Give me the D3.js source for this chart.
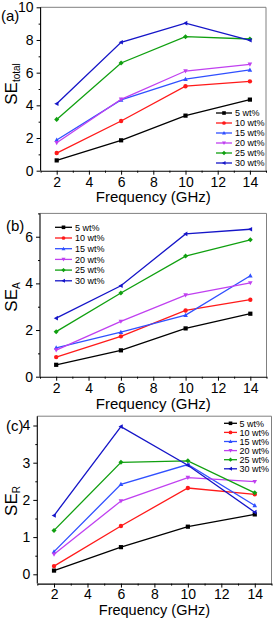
<!DOCTYPE html>
<html><head><meta charset="utf-8">
<script src="https://cdn.jsdelivr.net/npm/d3@7"></script>
<style>body{margin:0;background:#fff;} svg{display:block;font-family:"Liberation Sans",Arial,sans-serif;}</style>
</head><body>
<svg id="chart" width="274" height="621"></svg>
<script>
const freqs = [2, 6, 10, 14];
const seriesNames = ["5 wt%", "10 wt%", "15 wt%", "20 wt%", "25 wt%", "30 wt%"];
const seriesColors = ["#000000", "#ff1a1a", "#3050ff", "#c040f0", "#10a010", "#1515c8"];
const markerTypes = ["square", "circle", "triUp", "triDown", "diamond", "triLeft"];

const seTotal = [
  [0.63, 1.86, 3.37, 4.35],
  [1.08, 3.04, 5.17, 5.47],
  [1.88, 4.33, 5.60, 6.17],
  [1.71, 4.37, 6.10, 6.51],
  [3.14, 6.59, 8.20, 8.06],
  [4.10, 7.86, 9.03, 7.98]
];
const seA = [
  [0.51, 1.13, 2.07, 2.70],
  [0.84, 1.73, 2.84, 3.30],
  [1.24, 1.91, 2.64, 4.33],
  [1.14, 2.37, 3.50, 4.02],
  [1.93, 3.59, 5.17, 5.87],
  [2.51, 3.90, 6.12, 6.32]
];
const seR = [
  [0.10, 0.73, 1.28, 1.61],
  [0.22, 1.30, 2.32, 2.15],
  [0.61, 2.42, 2.95, 1.85],
  [0.54, 1.97, 2.60, 2.49],
  [1.18, 3.01, 3.05, 2.19],
  [1.58, 3.97, 2.93, 1.67]
];
const xTicks = [2, 4, 6, 8, 10, 12, 14];
const yTicksTotal = [0, 2, 4, 6, 8, 10];
const yTicksA = [0, 2, 4, 6];
const yTicksR = [0, 1, 2, 3, 4];

const svg = d3.select("#chart");

const panels = [
  {data: seTotal, label: "(a)", sub: "total", xr: [40.6, 266], yd: [0, 10], yr: [170.7, 7.3],
   yt: yTicksTotal, ym: d3.range(1, 10, 2), labelPos: [1, 21], titleY: 84, xTitleY: 202, xTitleSize: 15, xPad: 2,
   legend: {x0: 216, x1: 232, tx: 235, y0: 113, dy: 10}},
  {data: seA, label: "(b)", sub: "A", xr: [40, 266.5], yd: [0, 7], yr: [376.7, 213.4],
   yt: yTicksA, ym: [1, 3, 5, 7], labelPos: [6, 231], titleY: 297, xTitleY: 409, xTitleSize: 15, xPad: 2,
   legend: {x0: 55, x1: 72, tx: 75, y0: 227.3, dy: 10.7}},
  {data: seR, label: "(c)", sub: "R", xr: [37.3, 271.5], yd: [-0.25, 4.25], yr: [583.6, 416.2],
   yt: yTicksR, ym: [0.5, 1.5, 2.5, 3.5], labelPos: [6, 431], titleY: 501, xTitleY: 615, xTitleSize: 14.5, xPad: 1,
   legend: {x0: 224, x1: 237, tx: 239.5, y0: 423.3, dy: 9.1}}
];

function markerPath(type, s) {
  const h = s / 2;
  switch (type) {
    case "square": return `M${-h},${-h}h${s}v${s}h${-s}Z`;
    case "circle": return d3.symbol(d3.symbolCircle, s * s * 0.85)();
    case "triUp": return `M0,${-h * 1.15}L${h * 1.1},${h * 0.85}L${-h * 1.1},${h * 0.85}Z`;
    case "triDown": return `M0,${h * 1.15}L${h * 1.1},${-h * 0.85}L${-h * 1.1},${-h * 0.85}Z`;
    case "diamond": return `M0,${-h * 1.2}L${h * 1.2},0L0,${h * 1.2}L${-h * 1.2},0Z`;
    case "triLeft": return `M${-h * 1.15},0L${h * 0.85},${-h * 1.1}L${h * 0.85},${h * 1.1}Z`;
  }
}

panels.forEach(p => {
  const x = d3.scaleLinear().domain([1, 15]).range(p.xr);
  const y = d3.scaleLinear().domain(p.yd).range(p.yr);
  const g = svg.append("g");
  const [L, R] = p.xr, [B, T] = p.yr;

  g.append("path").attr("d", `M${L},${T}H${R}V${B}`).attr("fill", "none")
    .attr("stroke", "#808080").attr("stroke-width", 1);

  const xAxis = g.append("g").attr("transform", `translate(0,${B})`)
    .call(d3.axisBottom(x).tickValues(xTicks).tickSize(4).tickSizeOuter(0).tickPadding(p.xPad)
      .tickFormat(d3.format("d")));
  xAxis.select(".domain").attr("stroke", "#000").attr("stroke-width", 1.1);
  xAxis.selectAll("text").attr("font-size", 14).attr("fill", "#000")
    .attr("font-family", "Liberation Sans, Arial, sans-serif");
  g.append("g").attr("transform", `translate(0,${B})`)
    .call(d3.axisBottom(x).tickValues(d3.range(1, 16, 2)).tickSize(2).tickFormat(""))
    .select(".domain").remove();

  const yAxis = g.append("g").attr("transform", `translate(${L},0)`)
    .call(d3.axisLeft(y).tickValues(p.yt).tickSize(4).tickSizeOuter(0).tickPadding(3)
      .tickFormat(d3.format("d")));
  yAxis.select(".domain").attr("stroke", "#000").attr("stroke-width", 1.1)
    .attr("d", `M0,${B}V${T}`);
  yAxis.selectAll("text").attr("font-size", 14).attr("fill", "#000")
    .attr("font-family", "Liberation Sans, Arial, sans-serif");
  g.append("g").attr("transform", `translate(${L},0)`)
    .call(d3.axisLeft(y).tickValues(p.ym).tickSize(2).tickFormat(""))
    .select(".domain").remove();

  const line = d3.line().x((d, i) => x(freqs[i])).y(d => y(d));
  p.data.forEach((vals, si) => {
    g.append("path").attr("d", line(vals)).attr("fill", "none")
      .attr("stroke", seriesColors[si]).attr("stroke-width", 1.3);
    g.selectAll(null).data(vals).enter().append("path")
      .attr("transform", (d, i) => `translate(${x(freqs[i])},${y(d)})`)
      .attr("d", markerPath(markerTypes[si], 4.2))
      .attr("fill", seriesColors[si]);
  });

  const lg = p.legend;
  seriesNames.forEach((name, si) => {
    const yy = lg.y0 + si * lg.dy;
    g.append("line").attr("x1", lg.x0).attr("x2", lg.x1).attr("y1", yy).attr("y2", yy)
      .attr("stroke", seriesColors[si]).attr("stroke-width", 1.3);
    g.append("path").attr("transform", `translate(${(lg.x0 + lg.x1) / 2},${yy})`)
      .attr("d", markerPath(markerTypes[si], 3.6)).attr("fill", seriesColors[si]);
    g.append("text").attr("x", lg.tx).attr("y", yy + 3.2).attr("font-size", 9)
      .attr("fill", "#000").text(name);
  });

  g.append("text").attr("x", p.labelPos[0]).attr("y", p.labelPos[1])
    .attr("font-size", 15).attr("fill", "#000").text(p.label);

  const yt = g.append("text").attr("transform", `translate(16.5,${p.titleY}) rotate(-90)`)
    .attr("text-anchor", "middle").attr("font-size", 17).attr("fill", "#000");
  yt.append("tspan").text("SE");
  yt.append("tspan").attr("font-size", 10).attr("dy", 3).text(p.sub);

  g.append("text").attr("x", (L + R) / 2).attr("y", p.xTitleY).attr("text-anchor", "middle")
    .attr("font-size", p.xTitleSize).attr("fill", "#000").text("Frequency (GHz)");
});
</script>
</body></html>
